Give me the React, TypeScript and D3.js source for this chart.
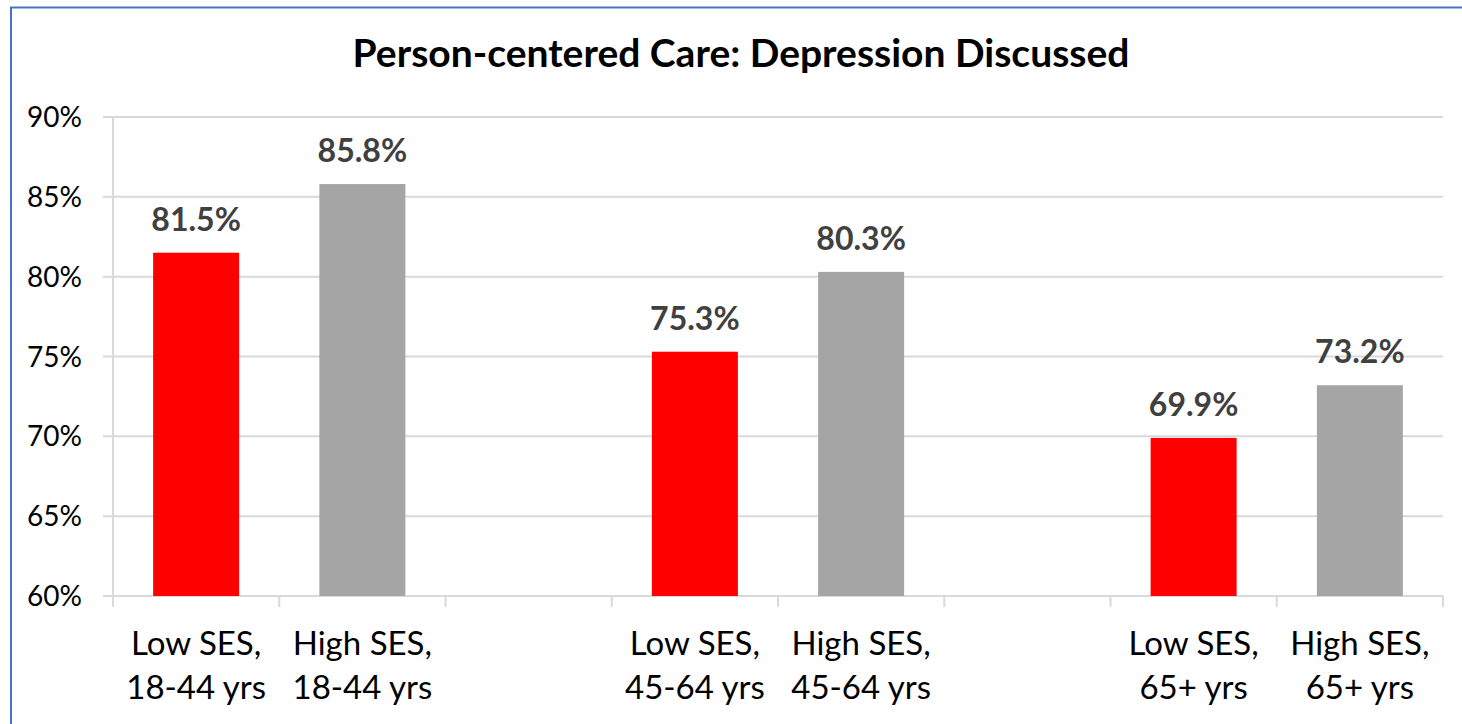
import React from "react";
import * as d3 from "d3";

const categories = [
  ["Low SES,", "18-44 yrs"],
  ["High SES,", "18-44 yrs"],
  null,
  ["Low SES,", "45-64 yrs"],
  ["High SES,", "45-64 yrs"],
  null,
  ["Low SES,", "65+ yrs"],
  ["High SES,", "65+ yrs"],
];
const values = [81.5, 85.8, null, 75.3, 80.3, null, 69.9, 73.2];
const barColors = ["#ff0000", "#a5a5a5", null, "#ff0000", "#a5a5a5", null, "#ff0000", "#a5a5a5"];
const yTicks = [60, 65, 70, 75, 80, 85, 90];
const title = "Person-centered Care: Depression Discussed";

const W = 1462;
const H = 724;
const left = 113;
const right = 1443;
const top = 117;
const bottom = 596;
const font = "Lato, 'Open Sans', sans-serif";

export default function App() {
  const idx = categories.map((_, i) => String(i));
  const x = d3.scaleBand<string>().domain(idx).range([left, right]).paddingInner(0).paddingOuter(0);
  const y = d3.scaleLinear().domain([60, 90]).range([bottom, top]);
  const bw = 86;
  const ticksX = d3.range(categories.length + 1).map((i) => left + i * x.bandwidth());

  return (
    <svg width={W} height={H} style={{ display: "block", position: "absolute", left: 0, top: 0 }}>
      <rect x={0} y={0} width={W} height={H} fill="#fff" />
      <rect x={11} y={7.5} width={W + 20} height={H + 20} fill="none" stroke="#4472c4" strokeWidth={2} />
      <text x={741} y={67} textAnchor="middle" fontFamily={font} fontWeight="bold" fontSize={39} fill="#000">
        {title}
      </text>
      {yTicks.map((t) => (
        <g key={t}>
          <line x1={103} x2={right} y1={y(t)} y2={y(t)} stroke="#d9d9d9" strokeWidth={2} />
          <text x={82} y={y(t) + 10} textAnchor="end" fontFamily={font} fontSize={28} fill="#000">
            {t}%
          </text>
        </g>
      ))}
      <line x1={left} x2={left} y1={top} y2={bottom + 11} stroke="#d9d9d9" strokeWidth={2} />
      {ticksX.map((tx, i) => (
        <line key={i} x1={tx} x2={tx} y1={bottom} y2={bottom + 11} stroke="#d9d9d9" strokeWidth={2} />
      ))}
      {values.map((v, i) => {
        if (v == null) return null;
        const cx = (x(String(i)) as number) + x.bandwidth() / 2;
        return (
          <g key={i}>
            <rect x={cx - bw / 2} y={y(v)} width={bw} height={bottom - y(v)} fill={barColors[i] as string} />
            <text x={cx} y={y(v) - 22} textAnchor="middle" fontFamily={font} fontWeight="bold" fontSize={32} fill="#404040">
              {v.toFixed(1)}%
            </text>
          </g>
        );
      })}
      {categories.map((c, i) => {
        if (!c) return null;
        const cx = (x(String(i)) as number) + x.bandwidth() / 2;
        return (
          <text key={i} textAnchor="middle" fontFamily={font} fontSize={33} fill="#000">
            <tspan x={cx} y={655}>{c[0]}</tspan>
            <tspan x={cx} y={699}>{c[1]}</tspan>
          </text>
        );
      })}
    </svg>
  );
}
